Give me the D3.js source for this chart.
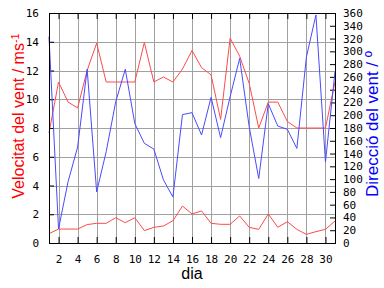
<!DOCTYPE html>
<html>
<head>
<meta charset="utf-8">
<script src="https://cdn.jsdelivr.net/npm/d3@7"></script>
<style>
  body { margin: 0; background: #fff; }
  svg { display: block; }
</style>
</head>
<body>
<svg id="chart"></svg>
<script>
// Daily values
const days = d3.range(1, 32);
const maxSpeed = [7.65, 11.2, 9.8, 9.4, 12.0, 13.9, 11.2, 11.2, 11.2, 11.2, 13.95, 11.2, 11.55, 11.2, 12.1, 13.4,
  12.2, 11.7, 8.6, 14.25, 13.0, 11.1, 8.0, 9.8, 9.8, 8.45, 8.0, 8.0, 8.0, 8.0, 11.2];
const meanSpeed = [0.65, 0.97, 0.97, 0.97, 1.28, 1.37, 1.37, 1.76, 1.41, 1.76, 0.86, 1.09, 1.18, 1.55, 2.57, 2.02,
  2.23, 1.37, 1.3, 1.3, 1.88, 1.09, 0.95, 2.02, 1.09, 1.48, 0.95, 0.6, 0.79, 0.95, 1.53];
const direction = [323, 22, 96, 150, 272, 80, 143, 221, 272, 187, 156, 147, 99, 72, 201, 204,
  169, 228, 165, 229, 289, 182, 101, 218, 183, 178, 148, 291, 357, 127, 268];
const speedTicks = d3.range(0, 17, 2);
const dirTicks = d3.range(0, 361, 20);
const dayTicks = d3.range(2, 31, 2);

const W = 384, H = 288;
const margin = { top: 13, right: 49, bottom: 45, left: 49 };
const width = W - margin.left - margin.right;
const height = H - margin.top - margin.bottom;

const svg = d3.select("#chart").attr("width", W).attr("height", H);
const g = svg.append("g").attr("transform", `translate(${margin.left},${margin.top})`);

const x = d3.scaleLinear().domain([1, 31]).range([0, width]);
const yL = d3.scaleLinear().domain([0, 16]).range([height, 0]);
const yR = d3.scaleLinear().domain([0, 360]).range([height, 0]);

const tickFont = "'DejaVu Sans Mono', monospace";

// grid
g.append("g").selectAll("line")
  .data(speedTicks.filter(d => d > 0 && d < 16))
  .join("line")
  .attr("x1", 0).attr("x2", width)
  .attr("y1", d => Math.round(yL(d)) + 0.5).attr("y2", d => Math.round(yL(d)) + 0.5)
  .attr("stroke", "#a0a0a0");
g.append("g").selectAll("line")
  .data(dayTicks)
  .join("line")
  .attr("y1", 0).attr("y2", height)
  .attr("x1", d => Math.round(x(d)) + 0.5).attr("x2", d => Math.round(x(d)) + 0.5)
  .attr("stroke", "#a0a0a0");

// axes (ticks point inward)
function styleAxis(sel) {
  sel.select(".domain").remove();
  sel.selectAll(".tick line").attr("stroke", "#000");
  sel.selectAll(".tick text").attr("fill", "#000").style("font-family", tickFont).style("font-size", "11px");
}
g.append("g")
  .attr("transform", `translate(0,${height})`)
  .call(d3.axisBottom(x).tickValues(dayTicks).tickSizeInner(-6).tickSizeOuter(0).tickPadding(12))
  .call(styleAxis);
g.append("g")
  .call(d3.axisTop(x).tickValues(dayTicks).tickSizeInner(-6).tickSizeOuter(0).tickFormat(""))
  .call(styleAxis);
g.append("g")
  .call(d3.axisLeft(yL).tickValues(speedTicks).tickSizeInner(-5).tickSizeOuter(0).tickPadding(10))
  .call(styleAxis);
g.append("g")
  .attr("transform", `translate(${width},0)`)
  .call(d3.axisRight(yR).tickValues(dirTicks).tickSizeInner(-5).tickSizeOuter(0).tickPadding(8))
  .call(styleAxis);

// series
const lineL = vals => d3.line().x((d, i) => x(days[i])).y(d => yL(d))(vals);
const lineR = d3.line().x((d, i) => x(days[i])).y(d => yR(d));

g.append("path").attr("d", lineL(maxSpeed)).attr("fill", "none").attr("stroke", "#ff4a4a").attr("stroke-width", 1);
g.append("path").attr("d", lineL(meanSpeed)).attr("fill", "none").attr("stroke", "#ff4a4a").attr("stroke-width", 1);
g.append("path").attr("d", lineR(direction)).attr("fill", "none").attr("stroke", "#4a4aff").attr("stroke-width", 1);

// frame
g.append("rect").attr("x", 0.5).attr("y", 0.5).attr("width", width).attr("height", height)
  .attr("fill", "none").attr("stroke", "#000");

// titles
const leftTitle = svg.append("text")
  .attr("transform", `translate(24,116)rotate(-90)`)
  .attr("text-anchor", "middle")
  .attr("fill", "#ff0000")
  .style("font-family", "'Liberation Sans', Arial, sans-serif")
  .style("font-size", "16px");
leftTitle.append("tspan").text("Velocitat del vent / ms");
leftTitle.append("tspan").attr("dy", "-0.45em").style("font-size", "11px").text("-1");

svg.append("text")
  .attr("transform", `translate(378,124)rotate(-90)`)
  .attr("text-anchor", "middle")
  .attr("fill", "#0000ff")
  .style("font-family", "'Liberation Sans', Arial, sans-serif")
  .style("font-size", "17px")
  .text("Direcció del vent / º");

svg.append("text")
  .attr("x", margin.left + width / 2)
  .attr("y", 279)
  .attr("text-anchor", "middle")
  .attr("fill", "#000")
  .style("font-family", "'Liberation Sans', Arial, sans-serif")
  .style("font-size", "16px")
  .text("dia");
</script>
</body>
</html>
